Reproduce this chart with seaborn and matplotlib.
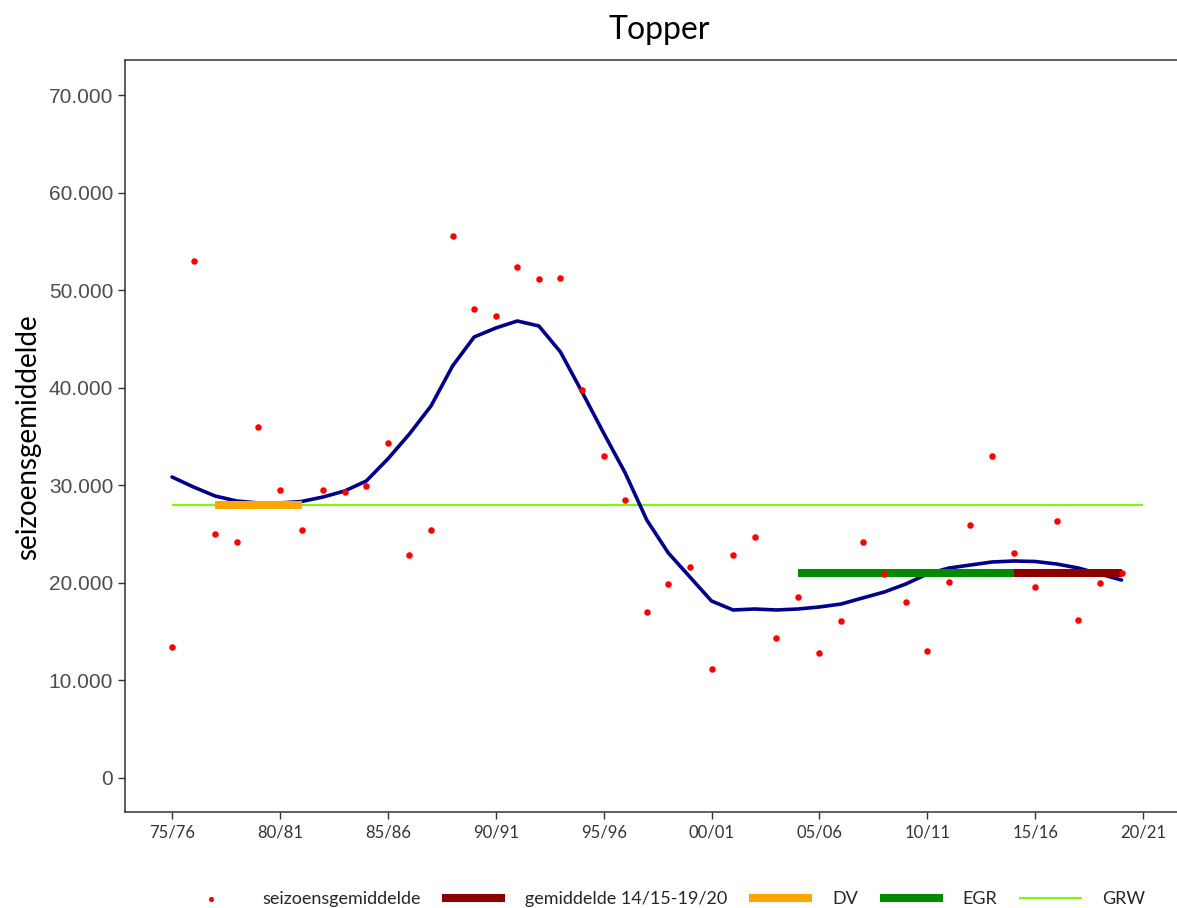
import matplotlib
matplotlib.use("Agg")
import matplotlib.pyplot as plt
import numpy as np
import pandas as pd
import seaborn as sns

# seizoenen 75/76 .. 19/20
seizoenen = ["75/76", "76/77", "77/78", "78/79", "79/80", "80/81", "81/82", "82/83",
             "83/84", "84/85", "85/86", "86/87", "87/88", "88/89", "89/90", "90/91",
             "91/92", "92/93", "93/94", "94/95", "95/96", "96/97", "97/98", "98/99",
             "99/00", "00/01", "01/02", "02/03", "03/04", "04/05", "05/06", "06/07",
             "07/08", "08/09", "09/10", "10/11", "11/12", "12/13", "13/14", "14/15",
             "15/16", "16/17", "17/18", "18/19", "19/20", "20/21"]

gemiddelde = [13400, 53000, 25000, 24200, 36000, 29500, 25400, 29500, 29300, 29900,
              34300, 22900, 25400, 55600, 48100, 47400, 52400, 51100, 51200, 39800,
              33000, 28500, 17000, 19900, 21600, 11200, 22900, 24700, 14400, 18500,
              12800, 16100, 24200, 20900, 18000, 13000, 20100, 25900, 33000, 23100,
              19600, 26300, 16200, 20000, 21000]

trend = [30850, 29820, 28900, 28390, 28190, 28190, 28340, 28800, 29420, 30440,
         32700, 35260, 38130, 42230, 45200, 46120, 46840, 46330, 43660, 39560,
         35360, 31260, 26440, 23060, 20600, 18140, 17220, 17320, 17220, 17320,
         17530, 17830, 18450, 19060, 19880, 20910, 21520, 21830, 22140, 22240,
         22190, 21930, 21520, 20910, 20290]

# (label, van, tot, niveau)
lijnen_grw = ("GRW", "75/76", "20/21", 28000)
lijnen_dv = ("DV", "77/78", "81/82", 28000)
lijnen_egr = ("EGR", "04/05", "14/15", 21000)
lijnen_gem = ("gemiddelde 14/15-19/20", "14/15", "19/20", 21000)

xticklabels = ["75/76", "80/81", "85/86", "90/91", "95/96", "00/01", "05/06", "10/11", "15/16", "20/21"]
yticks = [0, 10000, 20000, 30000, 40000, 50000, 60000, 70000]
yticklabels = ["0", "10.000", "20.000", "30.000", "40.000", "50.000", "60.000", "70.000"]

sns.set_style("ticks")
plt.rcParams["font.family"] = ["Lato", "DejaVu Sans"]

fig = plt.figure(figsize=(11.77, 9.08), dpi=100)
ax = fig.add_axes([125 / 1177, 96 / 908, 1052 / 1177, 752 / 908])

n = len(gemiddelde)
df = pd.DataFrame({"x": np.arange(n), "gem": gemiddelde, "trend": trend})


def segment(ax, spec, kleur, dikte):
    label, van, tot, niveau = spec
    d = pd.DataFrame({"x": [seizoenen.index(van), seizoenen.index(tot)], "y": [niveau, niveau]})
    sns.lineplot(data=d, x="x", y="y", color=kleur, linewidth=dikte, label=label, ax=ax,
                 solid_capstyle="butt")


segment(ax, lijnen_grw, "#7CFC00", 1.5)
sns.lineplot(data=df, x="x", y="trend", color="#00008B", linewidth=2.6, ax=ax)
segment(ax, lijnen_dv, "#FFA500", 5.8)
segment(ax, lijnen_egr, "#008B00", 5.8)
segment(ax, lijnen_gem, "#8B0000", 5.8)
sns.scatterplot(data=df, x="x", y="gem", color="#FF0000", s=22, linewidth=0,
                label="seizoensgemiddelde", ax=ax, zorder=5)

ax.set_xlim(-2.18, 46.57)
ax.set_ylim(-3485, 73590)
ax.set_xticks([seizoenen.index(t) for t in xticklabels])
ax.set_xticklabels(xticklabels, fontsize=12, color="#333333")
ax.set_yticks(yticks)
ax.set_yticklabels(yticklabels, fontsize=15, color="#4D4D4D")
for t in ax.get_yticklabels():
    t.set_fontfamily(["Liberation Sans", "DejaVu Sans"])
ax.tick_params(axis="both", length=5, width=1, color="#333333")
ax.tick_params(axis="x", pad=4)
ax.set_xlabel("")
ax.set_ylabel("")
for s in ["left", "top", "bottom"]:
    ax.spines[s].set_color("#333333")
    ax.spines[s].set_linewidth(1.1)
ax.spines["right"].set_visible(False)

fig.text(659 / 1177, 1 - 30 / 908, "Topper", fontsize=23, ha="center", va="center", color="black")
fig.text(28 / 1177, 1 - 437 / 908, "seizoensgemiddelde", fontsize=20, rotation=90,
         ha="center", va="center", color="black")

h, l = ax.get_legend_handles_labels()
ax.get_legend().remove()
volgorde = ["seizoensgemiddelde", "gemiddelde 14/15-19/20", "DV", "EGR", "GRW"]
handles = [h[l.index(v)] for v in volgorde]
fig.legend(handles, volgorde, loc="center", bbox_to_anchor=(662 / 1177, 1 - 899 / 908),
           ncol=5, frameon=False, fontsize=13, handlelength=3.5, handletextpad=1.1,
           columnspacing=1.2, markerscale=0.8)

fig.savefig("out.png", dpi=100)
